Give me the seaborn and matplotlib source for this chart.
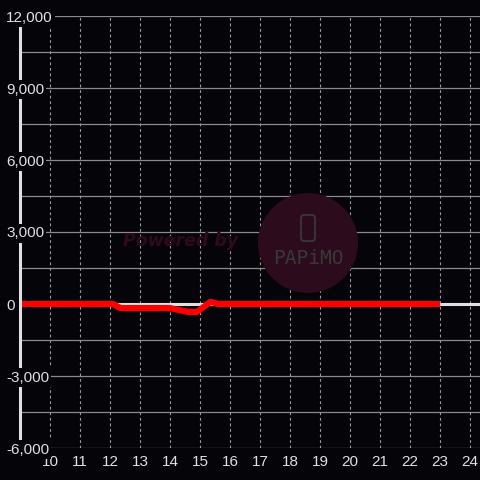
import matplotlib
matplotlib.use("Agg")
import matplotlib.pyplot as plt
import seaborn as sns
import pandas as pd
from matplotlib.patches import Circle, FancyBboxPatch

# ---- data ----
hours = [9.0, 12.0, 12.1, 12.35, 14.0, 14.6, 14.9, 15.35, 15.6, 23.0]
values = [0, 0, 0, -170, -170, -330, -330, 90, 0, 0]
x_ticks = list(range(10, 25))
y_ticks = [-6000, -3000, 0, 3000, 6000, 9000, 12000]
y_tick_labels = ["-6,000", "-3,000", "0", "3,000", "6,000", "9,000", "12,000"]
y_minor = [-4500, -1500, 1500, 4500, 7500, 10500]

BG = "#050408"
FG = "#e0e0e0"

sns.set_style("dark")
plt.rcParams["font.family"] = ["Liberation Sans", "DejaVu Sans"]

fig = plt.figure(figsize=(4.8, 4.8), dpi=100, facecolor=BG)
ax = fig.add_axes([20 / 480, 32 / 480, 460 / 480, 432 / 480])
ax.set_facecolor(BG)

# watermark (behind grid)
fig.patches.append(Circle((308 / 480, 1 - 243 / 480), 50 / 480, transform=fig.transFigure,
                          facecolor="#2c0b1d", edgecolor="none", zorder=0))
fig.patches.append(FancyBboxPatch((301 / 480, 1 - 241 / 480), 14 / 480, 26 / 480,
                                  boxstyle="round,pad=0,rounding_size=0.006",
                                  transform=fig.transFigure, facecolor="none",
                                  edgecolor="#3a3a3a", linewidth=1.2, zorder=0))
fig.text(308 / 480, 1 - 258 / 480, "PAPiMO", color="#383838", fontsize=14,
         family="DejaVu Sans Mono", ha="center", va="center", zorder=0)
fig.text(181 / 480, 1 - 241 / 480, "Powered by", color="#2e0a1c", fontsize=12.5,
         fontweight="bold", fontstyle="italic", family="DejaVu Sans",
         ha="center", va="center", zorder=0)

ax.set_xlim(9, 9 + 460 / 30)
ax.set_ylim(-6000, 12000)

# grid lines
for y in y_ticks + y_minor:
    ax.axhline(y, color="#8a8a8a", lw=0.9, zorder=1)
for x in x_ticks:
    ax.axvline(x, color="#9a9a9a", lw=0.8, ls=(0, (2.5, 2.5)), zorder=1)

# zero line
ax.axhline(0, color=FG, lw=2.2, zorder=2)

df = pd.DataFrame({"hour": hours, "value": values})
sns.lineplot(data=df, x="hour", y="value", ax=ax, color="#ff0000", lw=4.5,
             zorder=3, solid_joinstyle="round", solid_capstyle="butt")

for s in ["top", "right", "bottom"]:
    ax.spines[s].set_visible(False)
ax.spines["left"].set_color(FG)
ax.spines["left"].set_linewidth(2.2)
ax.spines["left"].set_zorder(4)

ax.set_xticks(x_ticks)
ax.set_xticklabels([str(v) for v in x_ticks])
ax.set_yticks(y_ticks)
ax.set_yticklabels(y_tick_labels)
ax.tick_params(axis="both", length=0, colors=FG, labelsize=11)
ax.tick_params(axis="x", pad=5)
ax.tick_params(axis="y", pad=10)
for lbl in ax.get_yticklabels():
    lbl.set_horizontalalignment("left")
    lbl.set_bbox(dict(facecolor=BG, edgecolor="none", pad=1.5))
ax.yaxis.set_zorder(6)
ax.set_xlabel("")
ax.set_ylabel("")
ax.grid(False)

fig.savefig("out.png", dpi=100, facecolor=BG)
